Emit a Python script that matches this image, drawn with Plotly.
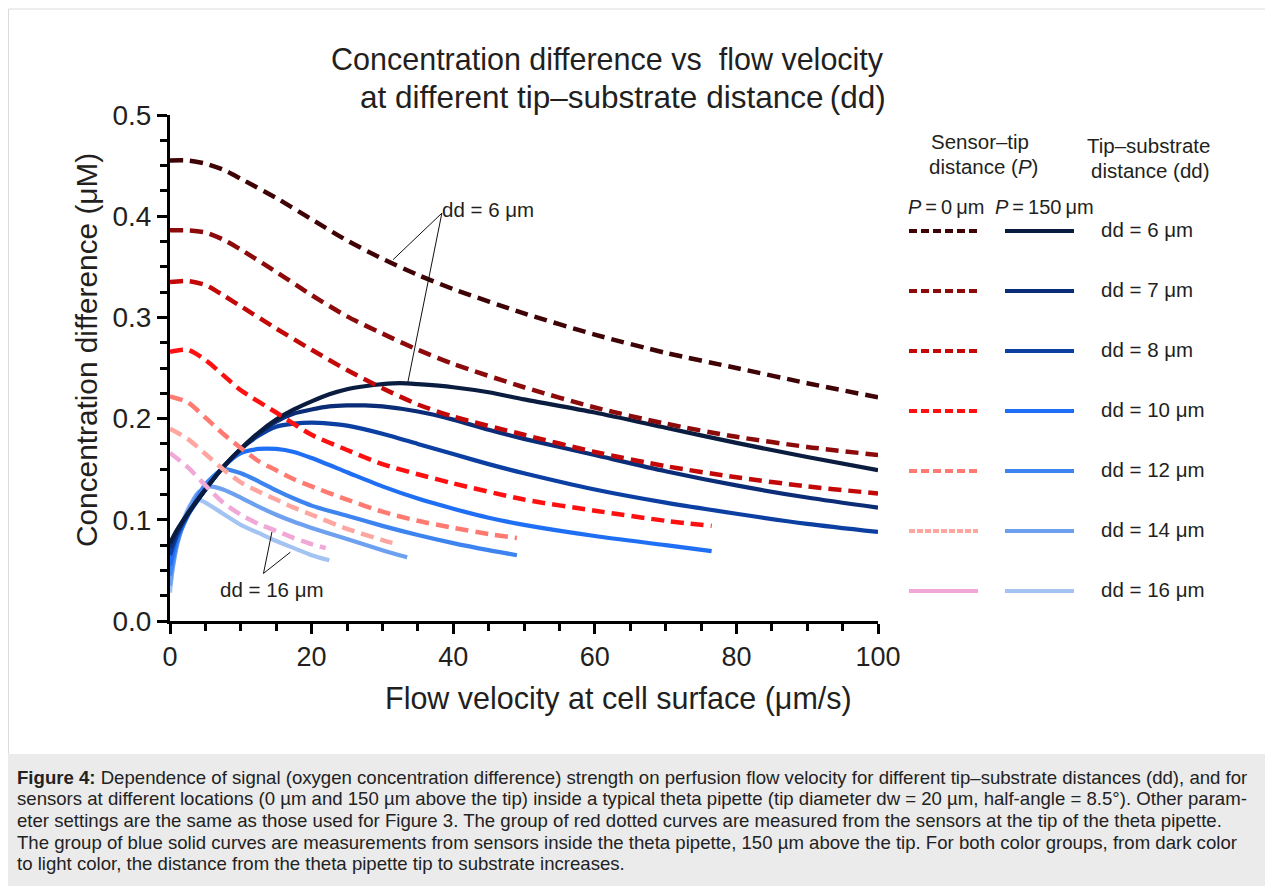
import plotly.graph_objects as go

# ---------------- data ----------------
dd_labels = ["dd = 6 μm", "dd = 7 μm", "dd = 8 μm", "dd = 10 μm", "dd = 12 μm", "dd = 14 μm", "dd = 16 μm"]

# Sensor at the tip (P = 0 μm), dashed red group
p0_dd6_x = [0, 2.5, 5, 7.5, 10, 15, 20, 25, 30, 35, 40, 50, 60, 70, 80, 90, 100]
p0_dd6_y = [0.455, 0.455, 0.452, 0.446, 0.437, 0.418, 0.397, 0.376, 0.358, 0.342, 0.328, 0.304, 0.283, 0.265, 0.250, 0.235, 0.221]
p0_dd7_x = [0, 2.5, 5, 7.5, 10, 15, 20, 25, 30, 35, 40, 50, 60, 70, 80, 90, 100]
p0_dd7_y = [0.386, 0.386, 0.384, 0.377, 0.367, 0.345, 0.322, 0.301, 0.284, 0.268, 0.254, 0.231, 0.211, 0.195, 0.182, 0.172, 0.164]
p0_dd8_x = [0, 2.5, 5, 7.5, 10, 15, 20, 25, 30, 35, 40, 50, 60, 70, 80, 90, 100]
p0_dd8_y = [0.335, 0.336, 0.332, 0.322, 0.311, 0.289, 0.268, 0.248, 0.230, 0.214, 0.202, 0.184, 0.167, 0.153, 0.142, 0.133, 0.126]
p0_dd10_x = [0, 2.5, 5, 7.5, 10, 15, 20, 25, 30, 35, 40, 50, 60, 70, 76.5]
p0_dd10_y = [0.266, 0.268, 0.258, 0.243, 0.228, 0.206, 0.184, 0.169, 0.155, 0.145, 0.136, 0.120, 0.109, 0.099, 0.094]
p0_dd12_x = [0, 2.5, 5, 7.5, 10, 12.5, 15, 17.5, 20, 25, 30, 35, 40, 45, 49]
p0_dd12_y = [0.222, 0.216, 0.201, 0.185, 0.171, 0.158, 0.149, 0.140, 0.133, 0.120, 0.108, 0.099, 0.092, 0.086, 0.082]
p0_dd14_x = [0, 2.5, 5, 7.5, 10, 12.5, 15, 17.5, 20, 25, 30, 32]
p0_dd14_y = [0.190, 0.180, 0.165, 0.150, 0.137, 0.128, 0.120, 0.112, 0.105, 0.091, 0.080, 0.076]
p0_dd16_x = [0, 2.5, 5, 7.5, 10, 12.5, 15, 17.5, 20, 22]
p0_dd16_y = [0.166, 0.152, 0.134, 0.117, 0.105, 0.096, 0.089, 0.082, 0.076, 0.072]

# Sensor 150 μm above the tip (P = 150 μm), solid blue group
p150_dd6_x = [0, 1, 2.5, 5, 7.5, 10, 12.5, 15, 17.5, 20, 22.5, 25, 27.5, 30, 32.5, 35, 40, 45, 50, 60, 70, 80, 90, 100]
p150_dd6_y = [0.077, 0.090, 0.106, 0.130, 0.152, 0.170, 0.186, 0.199, 0.209, 0.217, 0.224, 0.229, 0.232, 0.234, 0.235, 0.234, 0.231, 0.226, 0.219, 0.206, 0.191, 0.176, 0.162, 0.149]
p150_dd7_x = [0, 1, 2.5, 5, 7.5, 10, 12.5, 15, 17.5, 20, 22.5, 25, 27.5, 30, 35, 40, 45, 50, 60, 70, 80, 90, 100]
p150_dd7_y = [0.072, 0.088, 0.106, 0.130, 0.152, 0.170, 0.185, 0.197, 0.205, 0.209, 0.212, 0.213, 0.213, 0.212, 0.207, 0.199, 0.189, 0.180, 0.164, 0.148, 0.134, 0.122, 0.112]
p150_dd8_x = [0, 1, 2.5, 5, 7.5, 10, 12.5, 15, 17.5, 20, 22.5, 25, 30, 35, 40, 45, 50, 60, 70, 80, 90, 100]
p150_dd8_y = [0.065, 0.085, 0.105, 0.130, 0.152, 0.170, 0.183, 0.192, 0.195, 0.196, 0.195, 0.193, 0.185, 0.175, 0.165, 0.155, 0.146, 0.130, 0.117, 0.106, 0.096, 0.088]
p150_dd10_x = [0, 1, 2.5, 5, 7.5, 10, 12.5, 15, 17.5, 20, 25, 30, 35, 40, 45, 50, 60, 70, 76.5]
p150_dd10_y = [0.055, 0.082, 0.104, 0.130, 0.152, 0.166, 0.170, 0.170, 0.167, 0.161, 0.147, 0.133, 0.121, 0.111, 0.102, 0.095, 0.084, 0.075, 0.069]
p150_dd12_x = [0, 1, 2.5, 5, 7.5, 10, 12.5, 15, 17.5, 20, 25, 30, 35, 40, 45, 49]
p150_dd12_y = [0.045, 0.078, 0.104, 0.135, 0.150, 0.146, 0.138, 0.129, 0.121, 0.114, 0.104, 0.094, 0.085, 0.077, 0.070, 0.065]
p150_dd14_x = [0, 1, 2.5, 4, 5.5, 7.5, 10, 12.5, 15, 17.5, 20, 25, 30, 33.5]
p150_dd14_y = [0.035, 0.075, 0.108, 0.127, 0.133, 0.130, 0.122, 0.113, 0.105, 0.098, 0.092, 0.081, 0.070, 0.063]
p150_dd16_x = [0, 0.5, 1, 2, 3, 4, 5, 7.5, 10, 12.5, 15, 17.5, 20, 22.5]
p150_dd16_y = [0.028, 0.060, 0.078, 0.102, 0.116, 0.120, 0.117, 0.106, 0.095, 0.087, 0.079, 0.072, 0.065, 0.060]

x_ticks = [0, 20, 40, 60, 80, 100]
y_ticks = [0.0, 0.1, 0.2, 0.3, 0.4, 0.5]

red_colors = ["#3f0205", "#8c0a0a", "#c40808", "#ff1010", "#ff7a70", "#ffa6a0", "#f2a8d6"]
blue_colors = ["#0a1c40", "#0b2d78", "#0c3fa2", "#1f6ff4", "#3d84f0", "#6ea0f0", "#a3c3f3"]

p0_series = [(p0_dd6_x, p0_dd6_y), (p0_dd7_x, p0_dd7_y), (p0_dd8_x, p0_dd8_y), (p0_dd10_x, p0_dd10_y),
             (p0_dd12_x, p0_dd12_y), (p0_dd14_x, p0_dd14_y), (p0_dd16_x, p0_dd16_y)]
p150_series = [(p150_dd6_x, p150_dd6_y), (p150_dd7_x, p150_dd7_y), (p150_dd8_x, p150_dd8_y), (p150_dd10_x, p150_dd10_y),
               (p150_dd12_x, p150_dd12_y), (p150_dd14_x, p150_dd14_y), (p150_dd16_x, p150_dd16_y)]

caption_lines = [
    "<b>Figure 4:</b> Dependence of signal (oxygen concentration difference) strength on perfusion flow velocity for different tip–substrate distances (dd), and for",
    "sensors at different locations (0 µm and 150 µm above the tip) inside a typical theta pipette (tip diameter dw = 20 µm, half-angle = 8.5°). Other param-",
    "eter settings are the same as those used for Figure 3. The group of red dotted curves are measured from the sensors at the tip of the theta pipette.",
    "The group of blue solid curves are measurements from sensors inside the theta pipette, 150 µm above the tip. For both color groups, from dark color",
    "to light color, the distance from the theta pipette tip to substrate increases.",
]

# ---------------- layout geometry ----------------
OFF = 8                      # page body margin
W, H = 1273 - OFF, 886 - OFF
L, T = 170 - OFF, 115 - OFF
PW, PH = 708, 506
R, B = W - L - PW, H - T - PH
FONT = "Liberation Sans, Arial, Helvetica, sans-serif"
TXT = "#231f20"


def fx(p):
    """screen x pixel -> paper fraction"""
    return (p - OFF - L) / PW


def fy(p):
    """screen y pixel -> paper fraction"""
    return (H - B - (p - OFF)) / PH


fig = go.Figure()

# blue (P = 150 μm) first, light to dark
for i in reversed(range(7)):
    xs, ys = p150_series[i]
    fig.add_trace(go.Scatter(x=xs, y=ys, mode="lines", name="P=150 μm, " + dd_labels[i],
                             line=dict(color=blue_colors[i], width=4.2, shape="spline", smoothing=0.7),
                             showlegend=False))
# red (P = 0 μm) on top
for i in reversed(range(7)):
    xs, ys = p0_series[i]
    fig.add_trace(go.Scatter(x=xs, y=ys, mode="lines", name="P=0 μm, " + dd_labels[i],
                             line=dict(color=red_colors[i], width=4.5, dash="13px,7px", shape="spline", smoothing=0.7),
                             showlegend=False))

shapes = []
annotations = []

# page frame and caption band
shapes.append(dict(type="rect", xref="paper", yref="paper", x0=fx(8.5), x1=fx(1290), y0=fy(760), y1=fy(9),
                   line=dict(color="#dcdcdc", width=1), fillcolor="rgba(0,0,0,0)", layer="below"))
shapes.append(dict(type="rect", xref="paper", yref="paper", x0=fx(7), x1=fx(1290), y0=fy(900), y1=fy(754),
                   line=dict(width=0), fillcolor="#ebebeb", layer="below"))

for k, line in enumerate(caption_lines):
    annotations.append(dict(xref="paper", yref="paper", x=fx(15), y=fy(777 + 21.7 * k), text=line,
                            showarrow=False, xanchor="left", yanchor="middle",
                            font=dict(family=FONT, size=18.6, color="#222222")))

# title (two lines)
annotations.append(dict(xref="paper", yref="paper", x=fx(886), y=fy(60),
                        text="Concentration difference vs\u00a0 flow velocity", showarrow=False,
                        xanchor="right", yanchor="middle", font=dict(family=FONT, size=30.5, color=TXT)))
annotations.append(dict(xref="paper", yref="paper", x=fx(888), y=fy(97),
                        text="at different tip–substrate distance\u2009(dd)", showarrow=False,
                        xanchor="right", yanchor="middle", font=dict(family=FONT, size=31.5, color=TXT)))

# axis titles
annotations.append(dict(xref="paper", yref="paper", x=fx(618), y=fy(698),
                        text="Flow velocity at cell surface (μm/s)", showarrow=False,
                        xanchor="center", yanchor="middle", font=dict(family=FONT, size=30.5, color=TXT)))
annotations.append(dict(xref="paper", yref="paper", x=fx(86), y=fy(350),
                        text="Concentration difference (μM)", showarrow=False, textangle=-90,
                        xanchor="center", yanchor="middle", font=dict(family=FONT, size=29.8, color=TXT)))

# in-plot labels with leader lines
annotations.append(dict(xref="x", yref="y", x=38.2, y=0.407, text="dd = 6 μm", showarrow=False,
                        xanchor="left", yanchor="middle", font=dict(family=FONT, size=20.5, color=TXT)))
for (tx, ty) in [(31.5, 0.357), (33.6, 0.236)]:
    shapes.append(dict(type="line", xref="x", yref="y", x0=38.4, y0=0.403, x1=tx, y1=ty,
                       line=dict(color="#111111", width=1)))
annotations.append(dict(xref="x", yref="y", x=14.4, y=0.031, text="dd = 16 μm", showarrow=False,
                        xanchor="center", yanchor="middle", font=dict(family=FONT, size=20.5, color=TXT)))
for (tx, ty) in [(14.4, 0.088), (17.0, 0.068)]:
    shapes.append(dict(type="line", xref="x", yref="y", x0=13.2, y0=0.047, x1=tx, y1=ty,
                       line=dict(color="#111111", width=1)))

# custom two-column legend
annotations.append(dict(xref="paper", yref="paper", x=fx(980), y=fy(141), text="Sensor–tip", showarrow=False,
                        xanchor="center", yanchor="middle", font=dict(family=FONT, size=20.5, color=TXT)))
annotations.append(dict(xref="paper", yref="paper", x=fx(984), y=fy(166), text="distance (<i>P</i>)", showarrow=False,
                        xanchor="center", yanchor="middle", font=dict(family=FONT, size=20.5, color=TXT)))
annotations.append(dict(xref="paper", yref="paper", x=fx(1148), y=fy(145), text="Tip–substrate", showarrow=False,
                        xanchor="center", yanchor="middle", font=dict(family=FONT, size=20.5, color=TXT)))
annotations.append(dict(xref="paper", yref="paper", x=fx(1150), y=fy(170), text="distance (dd)", showarrow=False,
                        xanchor="center", yanchor="middle", font=dict(family=FONT, size=20.5, color=TXT)))
annotations.append(dict(xref="paper", yref="paper", x=fx(906), y=fy(207), text="<i>P</i>\u2009=\u20090\u2009μm",
                        showarrow=False, xanchor="left", yanchor="middle",
                        font=dict(family=FONT, size=20, color=TXT)))
annotations.append(dict(xref="paper", yref="paper", x=fx(993), y=fy(207), text="<i>P</i>\u2009=\u2009150\u2009μm",
                        showarrow=False, xanchor="left", yanchor="middle",
                        font=dict(family=FONT, size=20, color=TXT)))

legend_dash = ["8px,4px"] * 5 + ["6px,2px", "solid"]
for i in range(7):
    yrow = 231 + 60 * i
    shapes.append(dict(type="line", xref="paper", yref="paper", x0=fx(909), x1=fx(978), y0=fy(yrow), y1=fy(yrow),
                       line=dict(color=red_colors[i], width=4, dash=legend_dash[i])))
    shapes.append(dict(type="line", xref="paper", yref="paper", x0=fx(1005), x1=fx(1074), y0=fy(yrow), y1=fy(yrow),
                       line=dict(color=blue_colors[i], width=4)))
    annotations.append(dict(xref="paper", yref="paper", x=fx(1099), y=fy(yrow - 2), text=dd_labels[i],
                            showarrow=False, xanchor="left", yanchor="middle",
                            font=dict(family=FONT, size=20.5, color=TXT)))

fig.update_layout(
    width=W, height=H,
    margin=dict(l=L, r=R, t=T, b=B),
    paper_bgcolor="white", plot_bgcolor="white",
    showlegend=False,
    shapes=shapes, annotations=annotations,
    font=dict(family=FONT, color=TXT),
)
fig.update_xaxes(range=[0, 100], tickvals=x_ticks, ticktext=[str(v) for v in x_ticks],
                 showgrid=False, zeroline=False, showline=True, linecolor="black", linewidth=3,
                 ticks="outside", ticklen=10, tickwidth=3, tickcolor="black",
                 tickfont=dict(family=FONT, size=27, color=TXT),
                 minor=dict(dtick=5, ticks="outside", ticklen=7, tickwidth=3, tickcolor="black", showgrid=False))
fig.update_yaxes(range=[0, 0.5], tickvals=y_ticks, ticktext=["%.1f" % v for v in y_ticks],
                 showgrid=False, zeroline=False, showline=True, linecolor="black", linewidth=3,
                 ticks="outside", ticklen=10, tickwidth=3, tickcolor="black",
                 tickfont=dict(family=FONT, size=28, color=TXT),
                 minor=dict(dtick=0.025, ticks="outside", ticklen=7, tickwidth=3, tickcolor="black", showgrid=False))

fig.write_html("out.html")
